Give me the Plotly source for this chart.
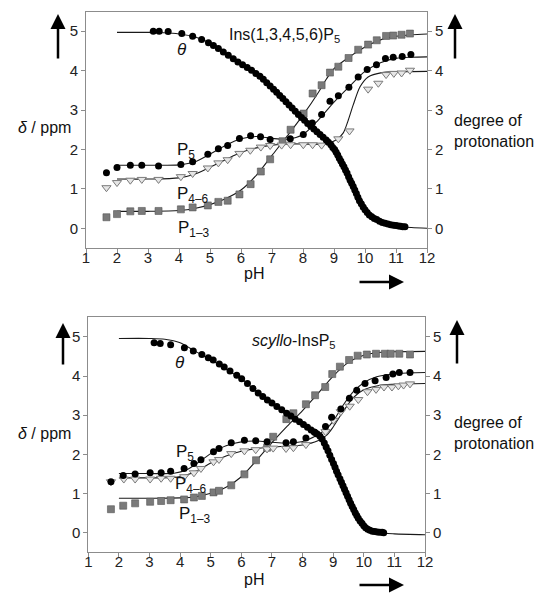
import plotly.graph_objects as go

W, H = 540, 598

# ---------------- data: top panel Ins(1,3,4,5,6)P5 ----------------
top_theta_ph = [3.17,3.36,3.65,4.09,4.44,4.73,4.95,5.11,5.27,5.43,5.59,5.75,5.90,6.05,6.20,6.34,6.48,6.61,6.72,6.83,
                6.94,7.05,7.15,7.25,7.35,7.45,7.55,7.65,7.75,7.85,7.95,8.05,8.15,8.25,8.35,8.45,8.55,8.65,8.75,8.82,
                8.90,8.96,9.02,9.07,9.12,9.17,9.22,9.27,9.32,9.37,9.42,9.47,9.52,9.57,9.62,9.67,9.72,9.77,9.82,9.88,
                9.94,10.00,10.07,10.14,10.22,10.30,10.38,10.47,10.56,10.65,10.74,10.83,10.92,11.00,11.08,11.15,11.22,11.29]
top_theta = [5.00,5.00,4.99,4.94,4.87,4.79,4.71,4.64,4.56,4.47,4.39,4.30,4.22,4.15,4.08,4.01,3.93,3.86,3.78,3.69,
             3.61,3.53,3.45,3.37,3.29,3.21,3.13,3.05,2.97,2.89,2.81,2.74,2.66,2.59,2.52,2.45,2.38,2.31,2.24,2.18,
             2.12,2.05,2.00,1.93,1.86,1.78,1.71,1.63,1.56,1.48,1.40,1.31,1.22,1.14,1.06,0.97,0.88,0.79,0.70,0.62,
             0.54,0.47,0.40,0.34,0.29,0.25,0.22,0.18,0.15,0.13,0.11,0.09,0.08,0.07,0.06,0.05,0.04,0.04]

top_p5_ph = [1.66,2.00,2.43,2.80,3.34,4.06,4.44,4.93,5.27,5.57,5.95,6.31,6.63,6.94,7.59,8.01,8.30,8.60,8.87,9.14,
             9.48,9.78,10.07,10.37,10.66,10.91,11.20,11.48]
top_p5 = [1.41,1.54,1.60,1.60,1.58,1.62,1.69,1.88,2.02,2.10,2.28,2.35,2.32,2.25,2.27,2.38,2.67,2.89,3.22,3.36,
          3.58,3.84,4.03,4.15,4.31,4.34,4.36,4.41]

top_p46_ph = [1.66,2.00,2.43,2.80,3.34,4.06,4.44,4.93,5.27,5.57,5.95,6.30,6.64,6.94,7.31,7.60,8.01,8.31,8.60,9.14,
              9.50,10.10,10.43,10.68,10.93,11.18,11.45]
top_p46 = [1.03,1.16,1.22,1.24,1.24,1.31,1.39,1.53,1.66,1.74,1.90,1.98,2.06,2.10,2.11,2.12,2.12,2.12,2.11,2.27,
           2.47,3.53,3.68,3.90,3.93,3.94,4.01]

top_p13_ph = [1.66,2.00,2.43,2.80,3.34,4.06,4.44,4.93,5.27,5.57,5.95,6.31,6.64,6.94,7.34,7.60,8.02,8.31,8.60,8.87,
              9.14,9.47,9.78,10.10,10.38,10.68,10.91,11.18,11.45]
top_p13 = [0.28,0.36,0.43,0.44,0.44,0.48,0.53,0.58,0.67,0.70,0.86,1.12,1.44,1.75,2.21,2.50,2.91,3.42,3.63,3.95,
           4.10,4.32,4.53,4.66,4.77,4.88,4.89,4.91,4.94]

# fitted curves (top)
top_fit_theta_ph = [2.0,3.0,3.5,4.0,4.5,5.0,5.5,6.0,6.5,7.0,7.5,8.0,8.5,8.75,9.0,9.25,9.5,9.75,10.0,10.25,10.5,11.0,11.5,12.0]
top_fit_theta = [4.97,4.97,4.96,4.93,4.86,4.70,4.44,4.17,3.92,3.58,3.19,2.78,2.42,2.22,2.02,1.70,1.27,0.83,0.47,0.28,0.16,0.06,0.02,0.00]
top_fit_p5_ph = [2,3,4,4.5,5,5.5,6,6.5,7,7.5,8,8.5,9,9.5,10,10.5,11,11.5,12]
top_fit_p5 = [1.60,1.60,1.61,1.68,1.88,2.10,2.27,2.33,2.28,2.26,2.38,2.75,3.20,3.60,3.98,4.20,4.31,4.34,4.35]
top_fit_p46_ph = [2,3,4,4.5,5,5.5,6,6.5,7,7.5,8,8.5,8.9,9.1,9.3,9.45,9.62,9.84,10.1,10.55,11,12]
top_fit_p46 = [1.25,1.25,1.28,1.37,1.55,1.74,1.92,2.04,2.11,2.14,2.14,2.13,2.18,2.26,2.42,2.72,3.13,3.59,3.84,3.95,3.97,3.98]
top_fit_p13_ph = [2,3,4,4.5,5,5.5,6,6.5,7,7.5,8,8.5,8.75,9,9.5,10,10.5,11,11.5,12]
top_fit_p13 = [0.43,0.43,0.45,0.50,0.60,0.75,0.97,1.35,1.85,2.35,2.87,3.45,3.78,4.05,4.35,4.60,4.78,4.87,4.91,4.93]

# ---------------- data: bottom panel scyllo-InsP5 ----------------
bot_theta_ph = [3.15,3.35,3.69,4.14,4.43,4.71,4.92,5.08,5.28,5.44,5.63,5.85,6.01,6.20,6.38,6.55,6.70,6.85,7.00,7.16,
                7.32,7.48,7.62,7.76,7.90,8.03,8.16,8.28,8.38,8.48,8.57,8.64,8.71,8.77,8.83,8.89,8.95,9.01,9.06,9.11,
                9.16,9.22,9.27,9.32,9.37,9.42,9.47,9.52,9.57,9.62,9.67,9.72,9.77,9.82,9.88,9.94,10.00,10.06,10.13,10.20,
                10.28,10.36,10.44,10.52,10.60,10.65]
bot_theta = [4.85,4.83,4.80,4.72,4.64,4.55,4.47,4.41,4.31,4.23,4.13,4.02,3.93,3.81,3.68,3.57,3.48,3.39,3.31,3.22,
             3.14,3.05,2.98,2.90,2.83,2.76,2.69,2.62,2.57,2.52,2.46,2.39,2.29,2.19,2.09,1.98,1.87,1.77,1.67,1.57,
             1.48,1.38,1.29,1.20,1.11,1.02,0.93,0.84,0.75,0.67,0.59,0.51,0.44,0.37,0.30,0.24,0.18,0.13,0.09,0.06,
             0.04,0.03,0.02,0.01,0.01,0.00]

bot_p5_ph = [1.74,2.14,2.53,3.02,3.38,3.69,4.13,4.45,4.68,5.09,5.27,5.67,6.10,6.47,6.84,7.46,7.70,8.11,8.41,8.75,
             8.95,9.25,9.53,9.77,10.04,10.37,10.73,10.95,11.16,11.51]
bot_p5 = [1.30,1.46,1.50,1.53,1.53,1.57,1.64,1.77,1.86,2.07,2.15,2.30,2.36,2.35,2.32,2.30,2.32,2.42,2.56,2.71,
          2.95,3.16,3.43,3.64,3.81,3.88,3.96,4.05,4.09,4.09]

bot_p46_ph = [1.74,2.16,2.53,3.02,3.38,3.69,4.13,4.45,4.68,5.09,5.27,5.67,6.10,6.47,6.84,7.04,7.46,7.70,8.11,8.75,
              9.01,9.25,9.54,9.82,10.12,10.40,10.66,10.92,11.13,11.30,11.51]
bot_p46 = [1.30,1.37,1.37,1.37,1.39,1.39,1.43,1.53,1.64,1.81,1.87,2.02,2.09,2.12,2.14,2.16,2.15,2.17,2.25,2.58,
           2.87,3.09,3.23,3.40,3.60,3.66,3.72,3.72,3.75,3.77,3.80]

bot_p13_ph = [1.74,2.14,2.53,3.02,3.38,3.69,4.13,4.45,4.71,5.09,5.27,5.67,6.10,6.48,6.84,7.04,7.47,7.70,8.11,8.41,
              8.74,8.97,9.22,9.52,9.80,10.10,10.40,10.69,10.88,11.16,11.51]
bot_p13 = [0.60,0.69,0.75,0.79,0.81,0.83,0.85,0.90,0.94,1.03,1.07,1.21,1.49,1.85,2.17,2.45,2.90,3.05,3.28,3.51,
           3.72,4.05,4.24,4.41,4.52,4.55,4.57,4.57,4.57,4.57,4.55]

# fitted curves (bottom)
bot_fit_theta_ph = [2,3,3.5,4,4.5,5,5.5,6,6.5,7,7.5,8,8.5,8.75,9,9.25,9.5,9.75,10,10.25,10.5,11,12]
bot_fit_theta = [4.96,4.96,4.94,4.85,4.63,4.42,4.17,3.93,3.61,3.31,3.04,2.77,2.50,2.22,1.80,1.33,0.88,0.47,0.19,0.06,0.00,-0.03,-0.05]
bot_fit_p5_ph = [2,3,3.8,4.2,4.6,5,5.5,6,6.5,7,7.5,8,8.5,8.8,9,9.33,9.66,10,10.42,11,11.5,12]
bot_fit_p5 = [1.51,1.51,1.52,1.60,1.80,2.02,2.22,2.32,2.34,2.31,2.29,2.33,2.50,2.67,2.85,3.26,3.60,3.83,3.98,4.06,4.08,4.09]
bot_fit_p46_ph = [2,3,3.8,4.2,4.6,5,5.5,6,6.5,7,7.5,8,8.5,8.8,9,9.33,9.66,10,10.5,11,12]
bot_fit_p46 = [1.40,1.40,1.41,1.47,1.60,1.78,1.96,2.08,2.15,2.19,2.21,2.24,2.35,2.50,2.70,3.10,3.45,3.65,3.76,3.79,3.81]
bot_fit_p13_ph = [2,3,4,4.5,5,5.5,6,6.5,7,7.5,8,8.5,9,9.5,10,10.5,11,12]
bot_fit_p13 = [0.88,0.88,0.89,0.92,1.01,1.16,1.43,1.85,2.30,2.72,3.12,3.55,4.00,4.35,4.53,4.60,4.62,4.63]

tick_vals_x = [1,2,3,4,5,6,7,8,9,10,11,12]
tick_vals_y = [0,1,2,3,4,5]

FONT = "Liberation Sans, Arial, sans-serif"
AX = "#8c8c8c"
LINE = "#1a1a1a"

fig = go.Figure()

def px_x(p):
    return p / W

def px_y(p):
    return 1 - p / H

def add_panel(xa, ya, yr, theta_ph, theta, p5_ph, p5, p46_ph, p46, p13_ph, p13, fits):
    for fx, fy, yy in fits:
        fig.add_trace(go.Scatter(x=fx, y=fy, mode="lines", xaxis=xa, yaxis=yy,
                                 line=dict(color=LINE, width=1.1, shape="spline", smoothing=0.8),
                                 showlegend=False, hoverinfo="skip"))
    fig.add_trace(go.Scatter(x=p13_ph, y=p13, mode="markers", xaxis=xa, yaxis=ya,
                             marker=dict(symbol="square", size=7, color="#7a7a7a",
                                         line=dict(color="#555555", width=0.6)), showlegend=False))
    fig.add_trace(go.Scatter(x=p46_ph, y=p46, mode="markers", xaxis=xa, yaxis=ya,
                             marker=dict(symbol="triangle-down", size=8, color="#e6e6e6",
                                         line=dict(color="#7a7a7a", width=1)), showlegend=False))
    fig.add_trace(go.Scatter(x=p5_ph, y=p5, mode="markers", xaxis=xa, yaxis=ya,
                             marker=dict(symbol="circle", size=7, color="#000000"), showlegend=False))
    fig.add_trace(go.Scatter(x=theta_ph, y=theta, mode="markers", xaxis=xa, yaxis=yr,
                             marker=dict(symbol="circle", size=7, color="#000000"), showlegend=False))

add_panel("x", "y", "y3", top_theta_ph, top_theta, top_p5_ph, top_p5, top_p46_ph, top_p46, top_p13_ph, top_p13,
          [(top_fit_theta_ph, top_fit_theta, "y3"), (top_fit_p5_ph, top_fit_p5, "y"),
           (top_fit_p46_ph, top_fit_p46, "y"), (top_fit_p13_ph, top_fit_p13, "y")])
add_panel("x2", "y2", "y4", bot_theta_ph, bot_theta, bot_p5_ph, bot_p5, bot_p46_ph, bot_p46, bot_p13_ph, bot_p13,
          [(bot_fit_theta_ph, bot_fit_theta, "y4"), (bot_fit_p5_ph, bot_fit_p5, "y2"),
           (bot_fit_p46_ph, bot_fit_p46, "y2"), (bot_fit_p13_ph, bot_fit_p13, "y2")])

tickfont = dict(family=FONT, size=15, color="#222222")

def xax(dom, anchor):
    return dict(domain=dom, anchor=anchor, range=[1, 12], tickvals=tick_vals_x, ticks="outside",
                ticklen=4, tickcolor=AX, showline=True, linecolor=AX, linewidth=1, mirror=True,
                showgrid=False, zeroline=False, tickfont=tickfont, automargin=False,
                ticklabelstandoff=-8)

def yax(dom, anchor, side="left", overlay=None):
    d = dict(anchor=anchor, range=[-0.5, 5.5], tickvals=tick_vals_y, ticks="outside", ticklen=4,
             tickcolor=AX, showline=True, linecolor=AX, linewidth=1, showgrid=False, zeroline=False,
             tickfont=tickfont, side=side, automargin=False)
    if overlay:
        d["overlaying"] = overlay
    else:
        d["domain"] = dom
    return d

top_xd = [px_x(86), px_x(427)]
top_yd = [px_y(248), px_y(11.5)]
bot_xd = [px_x(88.3), px_x(425)]
bot_yd = [px_y(552.3), px_y(317.3)]

fig.update_layout(
    width=W, height=H, margin=dict(l=0, r=0, t=0, b=0, pad=0, autoexpand=False),
    paper_bgcolor="white", plot_bgcolor="white",
    font=dict(family=FONT, color="#111111"),
    xaxis=xax(top_xd, "y"),
    yaxis=yax(top_yd, "x"),
    yaxis3=yax(None, "x", side="right", overlay="y"),
    xaxis2=xax(bot_xd, "y2"),
    yaxis2=yax(bot_yd, "x2"),
    yaxis4=yax(None, "x2", side="right", overlay="y2"),
)

ann = []

def text(xp, yp, t, xanchor="center", size=16, align="left"):
    ann.append(dict(x=px_x(xp), y=px_y(yp), xref="paper", yref="paper", text=t, showarrow=False,
                    xanchor=xanchor, yanchor="middle", align=align,
                    font=dict(family=FONT, size=size, color="#111111")))

def arrow(tipx, tipy, dx, dy):
    ann.append(dict(x=px_x(tipx), y=px_y(tipy), xref="paper", yref="paper", text="", showarrow=True,
                    ax=dx, ay=dy, arrowhead=2, arrowsize=1.2, arrowwidth=2.5, arrowcolor="#000000"))

# top panel texts
text(44, 128, "<i>δ</i> / ppm")
text(452, 131, "degree of<br>protonation", xanchor="left")
text(254, 274, "pH")
text(227, 36, "Ins(1,3,4,5,6)P<sub>5</sub>", xanchor="left")
text(182, 49, "<i>θ</i>", size=17)
text(175, 151, "P<sub>5</sub>", xanchor="left", size=17)
text(175, 195, "P<sub>4–6</sub>", xanchor="left", size=17)
text(176, 229, "P<sub>1–3</sub>", xanchor="left", size=17)
arrow(58, 14, 0, 46)
arrow(455, 14, 0, 46)
arrow(404, 282, -46, 0)

# bottom panel texts
text(44, 433, "<i>δ</i> / ppm")
text(452, 433, "degree of<br>protonation", xanchor="left")
text(254, 579, "pH")
text(250, 341, "<i>scyllo</i>-InsP<sub>5</sub>", xanchor="left")
text(180, 362, "<i>θ</i>", size=17)
text(174, 453, "P<sub>5</sub>", xanchor="left", size=17)
text(173, 485, "P<sub>4–6</sub>", xanchor="left", size=17)
text(177, 515, "P<sub>1–3</sub>", xanchor="left", size=17)
arrow(63, 323, 0, 43)
arrow(457, 320, 0, 45)
arrow(404, 585, -46, 0)

fig.update_layout(annotations=ann)
fig.write_html("out.html", config={"displayModeBar": False},
               post_script="document.body.style.margin='0';document.body.style.padding='0';")
